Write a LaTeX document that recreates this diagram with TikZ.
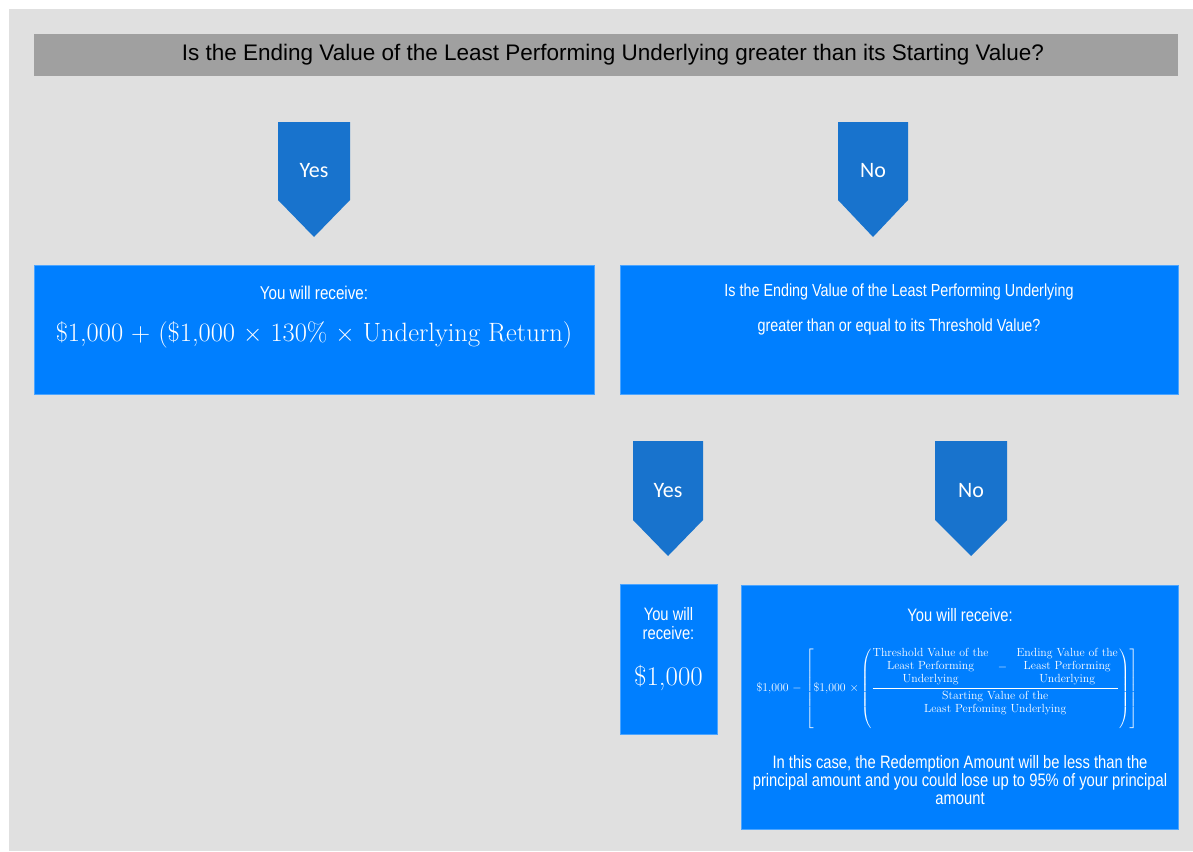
\documentclass[tikz,border=0pt]{standalone}
\usepackage{fontspec}
\usepackage{amsmath}
\newfontfamily\arialf{Liberation Sans}
\newfontfamily\condf[FakeStretch=0.82]{Liberation Sans}
\newfontfamily\calf{Carlito}
\definecolor{bgc}{RGB}{224,224,224}
\definecolor{barc}{RGB}{160,160,160}
\definecolor{boxc}{RGB}{0,127,255}
\definecolor{arrc}{RGB}{24,115,205}
\tikzset{
  box/.style={fill=boxc, draw=boxc!70!white, line width=0.8pt, anchor=north west, inner sep=0pt},
  chevtext/.style={text=white, font=\calf\fontsize{22}{26}\selectfont},
  condtext/.style={text=white, font=\condf\fontsize{17.5}{20}\selectfont, align=center},
  sertext/.style={text=white, align=center}
}
\newcommand\chevron[6]{% name, xl, xr, ytop, yside, ytip
  \fill[arrc] (#2,#4) -- (#3,#4) -- (#3,#5) -- ({(#2+#3)/2},#6) -- (#2,#5) -- cycle;
}
\begin{document}
\begin{tikzpicture}[x=1pt,y=-1pt]
\useasboundingbox (0,0) rectangle (1193,851);
\fill[bgc] (9,9) rectangle (1193,851);
% top question bar
\node[fill=barc, anchor=north west, inner sep=0pt, minimum width=1144pt, minimum height=42pt] (q0) at (34,34) {};
\node[font=\arialf\fontsize{22.5}{26}\selectfont, text=black] (q1) at (613,55)
  {Is the Ending Value of the Least Performing Underlying greater than its Starting Value?};
% first level chevrons
\chevron{y1}{278}{350}{122}{200}{237}
\node[chevtext] (y1) at (314,171) {Yes};
\chevron{n1}{838}{908}{122}{200}{237}
\node[chevtext] (n1) at (873,171) {No};
% box 1
\node[box, minimum width=560pt, minimum height=129pt] (b1) at (34,265) {};
\node[condtext, font=\condf\fontsize{18.5}{21}\selectfont] (b1a) at (314,293) {You will receive:};
\node[sertext, font=\fontsize{26.5}{30}\selectfont] (b1b) at (314,335)
  {\$1,000 + (\$1,000 $\times$ 130\% $\times$ Underlying Return)};
% box 2
\node[box, minimum width=558pt, minimum height=129pt] (b2) at (620,265) {};
\node[condtext] (b2a) at (899,292) {Is the Ending Value of the Least Performing Underlying};
\node[condtext] (b2b) at (899,327) {greater than or equal to its Threshold Value?};
% second level chevrons
\chevron{y2}{633}{703}{441}{520}{556}
\node[chevtext] (y2) at (668,491) {Yes};
\chevron{n2}{935}{1007}{441}{520}{556}
\node[chevtext] (n2) at (971,491) {No};
% box 3
\node[box, minimum width=97pt, minimum height=150pt] (b3) at (620,584) {};
\node[condtext, font=\condf\fontsize{18}{19}\selectfont] (b3a) at (668.5,624) {You will\\receive:};
\node[sertext, font=\fontsize{27}{30}\selectfont] (b3b) at (668.5,678) {\$1,000};
% box 4
\node[box, minimum width=437pt, minimum height=244pt] (b4) at (741,585) {};
\node[condtext, font=\condf\fontsize{18}{21}\selectfont] (b4a) at (960,615) {You will receive:};
\node[text=white, font=\fontsize{11.8}{13}\selectfont] (b4f) at (947,688)
  {\$1,000 $-$ $\left[\text{\$1,000 $\times$}\left(\dfrac{\begin{tabular}{@{}c@{}}Threshold Value of the\\Least Performing\\Underlying\end{tabular}\;\; - \;\;\begin{tabular}{@{}c@{}}Ending Value of the\\Least Performing\\Underlying\end{tabular}}{\begin{tabular}{@{}c@{}}Starting Value of the\\Least Perfoming Underlying\end{tabular}}\right)\right]$};
\node[condtext, font=\condf\fontsize{18}{18}\selectfont] (b4c) at (960,780)
  {In this case, the Redemption Amount will be less than the\\principal amount and you could lose up to 95\% of your principal\\amount};
\end{tikzpicture}
\end{document}
